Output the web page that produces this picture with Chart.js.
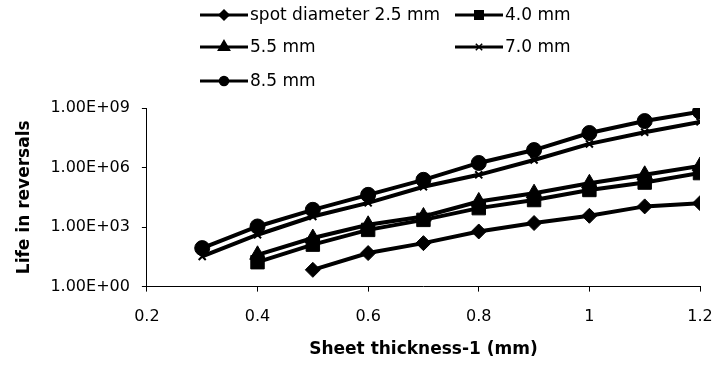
<!DOCTYPE html>
<html>
<head>
<meta charset="utf-8">
<script src="https://cdn.jsdelivr.net/npm/chart.js@4.4.1/dist/chart.umd.min.js"></script>
<style>
  body { margin: 0; background: #fff; }
  #wrap { width: 717px; height: 367px; }
</style>
</head>
<body>
<div id="wrap"><canvas id="life-chart" width="717" height="367"></canvas></div>
<script>
// sheet thickness-1 (mm)
const thickness = [0.3, 0.4, 0.5, 0.6, 0.7, 0.8, 0.9, 1.0, 1.1, 1.2];

// life in reversals for each spot diameter (null = not tested)
const spot25 = [null, null, 7, 49, 155, 600, 1600, 3700, 11000, 16000];
const spot40 = [null, 17, 130, 720, 2300, 9000, 23000, 74000, 175000, 525000];
const spot55 = [null, 40, 280, 1300, 3400, 19500, 51000, 160000, 430000, 1200000];
const spot70 = [33, 410, 3400, 16600, 107000, 430000, 2.4e6, 1.55e7, 6e7, 2e8];
const spot85 = [87, 1070, 7400, 42000, 240000, 1.7e6, 7.6e6, 5.5e7, 2.2e8, 6.5e8];

const seriesNames = ["spot diameter 2.5 mm", "4.0 mm", "5.5 mm", "7.0 mm", "8.5 mm"];
const yTicks = [1, 1e3, 1e6, 1e9];
const yTickLabels = ["1.00E+00", "1.00E+03", "1.00E+06", "1.00E+09"];

const markers = ['rectRot', 'rect', 'triangle', 'crossRot', 'circle'];
const markerSize = [7.5, 9.5, 9, 5, 7.5];
const legendSize = [5, 6, 6.5, 4.5, 4.5];
const legendPos = [[200, 15], [455, 15], [200, 47], [455, 47], [200, 81]];

function points(values) {
  return thickness.map((t, i) => ({ x: t, y: values[i] })).filter(p => p.y !== null);
}

Chart.defaults.font.family = '"DejaVu Sans", sans-serif';
Chart.defaults.font.size = 16;
Chart.defaults.color = '#000';

// legend laid out in two columns like the original
const gridLegend = {
  id: 'gridLegend',
  afterDraw(chart) {
    const ctx = chart.ctx;
    ctx.save();
    chart.data.datasets.forEach((ds, i) => {
      const [x, y] = legendPos[i];
      ctx.strokeStyle = '#000';
      ctx.fillStyle = '#000';
      ctx.lineWidth = 3;
      ctx.beginPath();
      ctx.moveTo(x, y);
      ctx.lineTo(x + 48, y);
      ctx.stroke();
      ctx.lineWidth = 1.5;
      Chart.helpers.drawPoint(ctx, { pointStyle: markers[i], radius: legendSize[i], borderWidth: 1, rotation: 0 }, x + 24, y);
      ctx.font = '17px "DejaVu Sans"';
      ctx.textBaseline = 'middle';
      ctx.textAlign = 'left';
      ctx.fillText(ds.label, x + 50, y + 1);
    });
    ctx.restore();
  }
};

const series = [spot25, spot40, spot55, spot70, spot85];

new Chart(document.getElementById("life-chart"), {
  type: 'line',
  data: {
    datasets: series.map((s, i) => ({
      label: seriesNames[i],
      data: points(s),
      borderColor: '#000',
      backgroundColor: '#000',
      borderWidth: 4,
      pointStyle: markers[i],
      pointRadius: markerSize[i],
      pointBorderWidth: i === 3 ? 2 : 1,
      pointBorderColor: '#000',
      pointBackgroundColor: '#000',
      tension: 0
    }))
  },
  options: {
    responsive: false,
    devicePixelRatio: 1,
    animation: false,
    layout: { padding: { top: 108, left: 10, right: 17, bottom: 3 } },
    plugins: {
      legend: { display: false },
      tooltip: { enabled: false }
    },
    scales: {
      x: {
        type: 'linear',
        min: 0.2,
        max: 1.2,
        afterFit: axis => { axis.paddingRight = 0; },
        ticks: { stepSize: 0.2, padding: 15.4, callback: v => String(Math.round(v * 10) / 10) },
        grid: { drawOnChartArea: false, tickLength: 5, color: '#000' },
        border: { color: '#000', width: 1 },
        title: { display: true, text: 'Sheet thickness-1 (mm)', font: { weight: 'bold', size: 17 }, padding: { top: -2, bottom: 4 } }
      },
      y: {
        type: 'logarithmic',
        min: 1,
        max: 1e9,
        afterBuildTicks: axis => { axis.ticks = yTicks.map(v => ({ value: v })); },
        ticks: {
          padding: 12,
          callback: (v) => yTickLabels[yTicks.indexOf(v)]
        },
        grid: { drawOnChartArea: false, tickLength: 5, color: '#000' },
        border: { color: '#000', width: 1 },
        title: { display: true, text: 'Life in reversals', font: { weight: 'bold', size: 17 }, padding: { top: 4, bottom: 4 } }
      }
    }
  },
  plugins: [gridLegend]
});
</script>
</body>
</html>
